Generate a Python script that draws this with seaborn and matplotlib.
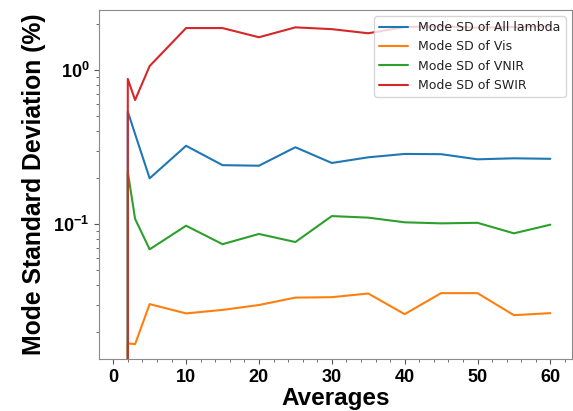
import numpy as np
import pandas as pd
import matplotlib
matplotlib.use('Agg')
import matplotlib.pyplot as plt
import seaborn as sns
from matplotlib.ticker import MultipleLocator

# averages used (1 average -> no deviation)
averages = [1, 2, 3, 5, 10, 15, 20, 25, 30, 35, 40, 45, 50, 55, 60]

sd_all = [0, 0.536, 0.384, 0.198, 0.322, 0.241, 0.239, 0.315, 0.249, 0.271, 0.285, 0.284, 0.263, 0.267, 0.265]
sd_vis = [0, 0.0168, 0.0166, 0.0302, 0.0263, 0.0277, 0.0298, 0.0333, 0.0335, 0.0354, 0.0260, 0.0356, 0.0356, 0.0256, 0.0264]
sd_vnir = [0, 0.218, 0.108, 0.0685, 0.0975, 0.0740, 0.0862, 0.0764, 0.1126, 0.110, 0.1026, 0.101, 0.1018, 0.0870, 0.0990]
sd_swir = [0, 0.874, 0.638, 1.06, 1.87, 1.87, 1.63, 1.89, 1.84, 1.73, 1.90, 1.92, 1.88, 1.90, 1.92]

labels = ['Mode SD of All lambda', 'Mode SD of Vis', 'Mode SD of VNIR', 'Mode SD of SWIR']

df = pd.concat([
    pd.DataFrame({'Averages': averages, 'SD': s, 'Series': lab})
    for s, lab in zip([sd_all, sd_vis, sd_vnir, sd_swir], labels)
])

sns.set_style('ticks')
plt.rcParams['mathtext.default'] = 'regular'
plt.rcParams['text.color'] = 'black'
plt.rcParams['axes.labelcolor'] = 'black'
plt.rcParams['xtick.color'] = 'black'
plt.rcParams['ytick.color'] = 'black'

fig = plt.figure(figsize=(5.73, 4.11), dpi=100)
ax = fig.add_axes([0.1728, 0.1265, 0.8252, 0.8492])

sns.lineplot(data=df, x='Averages', y='SD', hue='Series', hue_order=labels,
             palette=sns.color_palette('tab10', 4), linewidth=1.5, ax=ax)

ax.set_yscale('log')
ax.set_ylim(0.0133, 2.45)
ax.xaxis.set_major_locator(MultipleLocator(10))
ax.xaxis.set_minor_locator(MultipleLocator(2))

for sp in ax.spines.values():
    sp.set_color('#8a8a8a')
ax.tick_params(which='both', direction='out', color='#555555')
ax.tick_params(which='major', length=3.5)
ax.tick_params(which='minor', length=2)

for lab in ax.get_xticklabels() + ax.get_yticklabels():
    lab.set_fontfamily('Liberation Sans')
    lab.set_fontweight('bold')
    lab.set_fontsize(13)

ax.set_xlabel('Averages', fontsize=17.5, fontweight='bold', family='Liberation Sans', labelpad=1)
ax.set_ylabel('Mode Standard Deviation (%)', fontsize=17.8, fontweight='bold', family='Liberation Sans')
ax.yaxis.set_label_coords(-0.112, 0.5)

leg = ax.legend(loc='upper right', fontsize=9, title=None, handlelength=2.3)
leg.get_frame().set_alpha(0.8)
for t in leg.get_texts():
    t.set_color('#222222')

fig.savefig('out.png', dpi=100)
